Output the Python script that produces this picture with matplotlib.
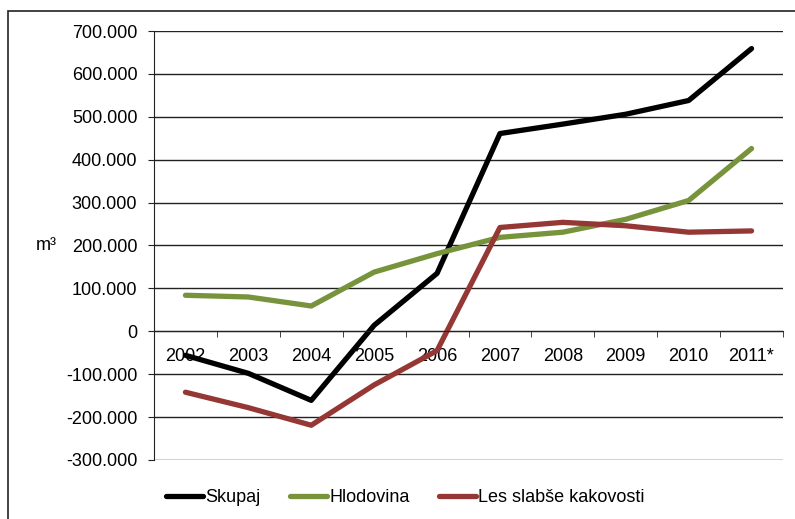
import matplotlib.pyplot as plt
from matplotlib.patches import Rectangle
from matplotlib.ticker import FuncFormatter, MultipleLocator

plt.rcParams['font.family'] = ['Liberation Sans', 'DejaVu Sans']

leta = ['2002', '2003', '2004', '2005', '2006', '2007', '2008', '2009', '2010', '2011*']
skupaj = [-56000, -98000, -161000, 14000, 135000, 461000, 483000, 506000, 538000, 659000]
hlodovina = [84000, 80000, 59000, 138000, 181000, 219000, 231000, 261000, 305000, 426000]
les_slabse = [-142000, -178000, -219000, -125000, -45000, 242000, 254000, 246000, 231000, 234000]

fs = 13

fig = plt.figure(figsize=(7.95, 5.19), dpi=100)
ax = fig.add_axes([154/795, 1 - 460/519, (783-154)/795, (460-31)/519])

x = range(len(leta))
ax.plot(x, skupaj, color='black', lw=3.8, label='Skupaj', solid_capstyle='round')
ax.plot(x, hlodovina, color='#77933C', lw=3.8, label='Hlodovina', solid_capstyle='round')
ax.plot(x, les_slabse, color='#953735', lw=3.8, label='Les slabše kakovosti', solid_capstyle='round')

ax.set_xlim(-0.5, len(leta) - 0.5)
ax.set_ylim(-300000, 700000)
ax.yaxis.set_major_locator(MultipleLocator(100000))
ax.yaxis.set_major_formatter(FuncFormatter(lambda v, p: '0' if v == 0 else f'{int(v):,}'.replace(',', '.')))
ax.grid(axis='y', color='#222222', lw=1)
ax.set_axisbelow(True)

for s in ['top', 'right']:
    ax.spines[s].set_visible(False)
ax.spines['bottom'].set_position(('data', 0))
ax.spines['left'].set_color('#222222')
ax.spines['bottom'].set_color('#222222')

ax.set_xticks(list(x))
ax.set_xticklabels(leta)
ax.set_xticks([i - 0.5 for i in range(len(leta) + 1)], minor=True)
ax.tick_params(axis='x', which='major', length=0, pad=12, labelsize=fs)
ax.tick_params(axis='x', which='minor', direction='out', length=4, color='#222222')
ax.tick_params(axis='y', direction='out', length=4, pad=8, labelsize=fs, color='#222222')

fig.text(36/795, 1 - 245/519, 'm³', fontsize=fs, va='center')

fig.legend(loc='center', bbox_to_anchor=(0.51, 1 - 498/519), ncol=3, frameon=False,
           fontsize=fs, handlelength=2.05, handletextpad=0.15, columnspacing=1.6)

fig.patches.append(Rectangle((8/795, -0.1), 1.1, 1 - 11/519 + 0.1, transform=fig.transFigure,
                             fill=False, edgecolor='#222222', lw=1.2, clip_on=False))

fig.savefig('out.png', dpi=100)
